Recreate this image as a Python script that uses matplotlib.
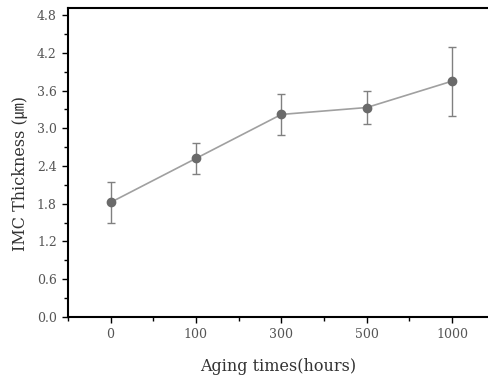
import matplotlib
matplotlib.use("Agg")
import matplotlib.pyplot as plt
from matplotlib.ticker import MultipleLocator, FixedLocator

categories = ["0", "100", "300", "500", "1000"]
thickness = [1.82, 2.52, 3.22, 3.33, 3.75]
errors = [0.33, 0.24, 0.33, 0.26, 0.55]
y_ticks = [0.0, 0.6, 1.2, 1.8, 2.4, 3.0, 3.6, 4.2, 4.8]

fam = ['DejaVu Serif', 'Noto Sans CJK KR']

fig = plt.figure(figsize=(4.88, 3.79), dpi=100)
ax = fig.add_axes([0.139, 0.164, 0.861, 0.816])

x = list(range(1, len(categories) + 1))
ax.errorbar(x, thickness, yerr=errors, color='#a0a0a0', lw=1.2,
            marker='o', markersize=6, markerfacecolor='#6a6a6a',
            markeredgecolor='#6a6a6a', ecolor='#808080', elinewidth=1.0,
            capsize=3, capthick=1.0)

ax.set_xlim(0.5, 5.42)
ax.set_ylim(0, 4.92)
ax.set_xticks(x)
ax.set_xticklabels(categories)
ax.xaxis.set_minor_locator(FixedLocator([0.5, 1.5, 2.5, 3.5, 4.5]))
ax.set_yticks(y_ticks)
ax.set_yticklabels([f"{v:.1f}" for v in y_ticks])
ax.yaxis.set_minor_locator(MultipleLocator(0.3))

ax.spines['right'].set_visible(False)
for s in ['left', 'bottom', 'top']:
    ax.spines[s].set_linewidth(1.5)
    ax.spines[s].set_color('black')

ax.tick_params(axis='both', which='major', direction='out', length=4, width=1.0,
               labelsize=9, labelcolor='#555555', pad=4)
ax.tick_params(axis='both', which='minor', direction='out', length=3, width=1.0)
for lab in ax.get_xticklabels() + ax.get_yticklabels():
    lab.set_family(fam)

ax.set_xlabel("Aging times(hours)", fontsize=11.5, family=fam, color='#333333', labelpad=12)
ax.set_ylabel("IMC Thickness (㎛)", fontsize=11.5, family=fam, color='#333333')
ax.yaxis.set_label_coords(-0.093, 0.465)

fig.savefig("out.png", dpi=100)
